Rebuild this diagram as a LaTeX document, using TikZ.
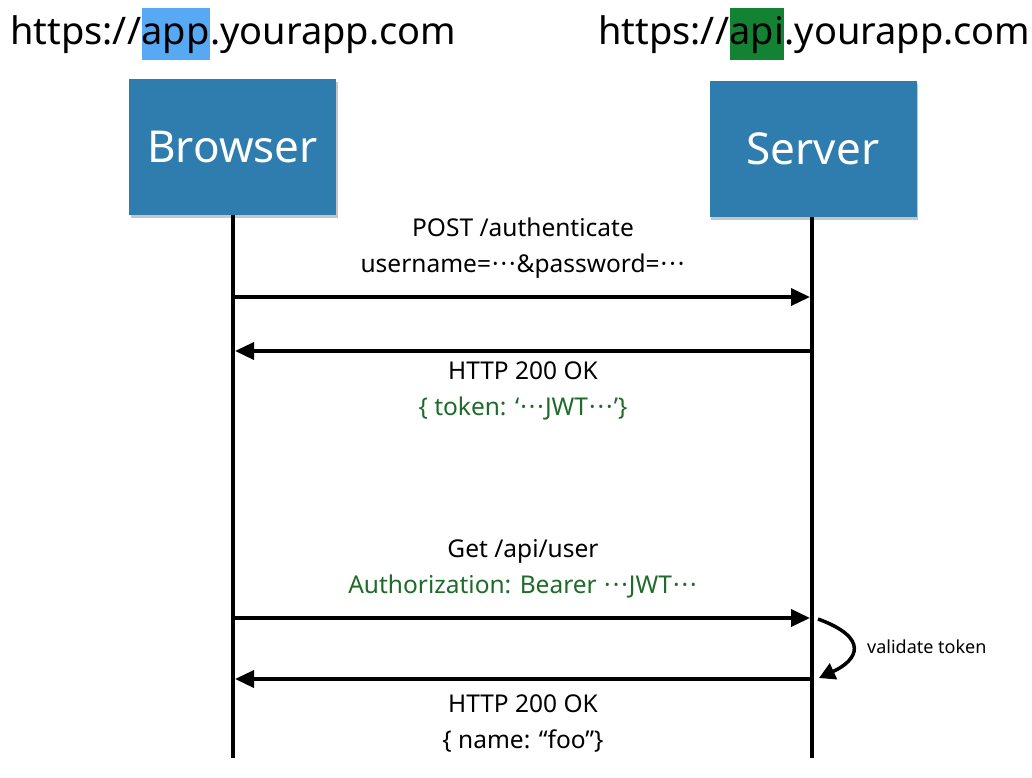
\documentclass[tikz,border=0pt]{standalone}
\usepackage{fontspec}
\setmainfont{Noto Sans}
\usetikzlibrary{arrows.meta,shadows,positioning}
\definecolor{boxblue}{HTML}{2F7DAE}
\definecolor{hlblue}{HTML}{57A9F4}
\definecolor{hlgreen}{HTML}{138232}
\definecolor{txtgreen}{HTML}{1E6B2A}
\newcommand{\dotsmid}{\kern1pt·\kern2pt·\kern2pt·\kern1pt}
\begin{document}
\begin{tikzpicture}[x=1pt,y=-1pt,
  title/.style={font=\fontsize{38}{40}\selectfont, inner xsep=0pt, inner ysep=0pt, text height=37pt, text depth=15pt, anchor=base west},
  actor/.style={fill=boxblue, text=white, minimum width=207pt, minimum height=136pt, inner sep=0pt,
    font=\fontsize{44}{46}\selectfont, drop shadow={opacity=0.45, shadow xshift=1.5pt, shadow yshift=-3pt}},
  life/.style={line width=3.5pt},
  msg/.style={line width=3.5pt, -{Triangle[length=19pt,width=17pt]}},
  lbl/.style={font=\fontsize{24.5}{36}\selectfont, align=center, inner sep=0pt},
  note/.style={font=\fontsize{18}{20}\selectfont, inner sep=0pt, anchor=west}]
\useasboundingbox (0,0) rectangle (1032,778);
% titles
\node[title] (t1a) at (10,45) {https://};
\node[title, fill=hlblue, right=0pt of t1a.base east, anchor=base west] (t1b) {app};
\node[title, right=0pt of t1b.base east, anchor=base west] (t1c) {.yourapp.com};
\node[title] (t2a) at (598,45) {https://};
\node[title, fill=hlgreen, right=0pt of t2a.base east, anchor=base west] (t2b) {api};
\node[title, right=0pt of t2b.base east, anchor=base west] (t2c) {.yourapp.com};
% actors
\node[actor] (browser) at (232.5,147) {Browser};
\node[actor] (server) at (813,149) {Server};
% lifeline ends
\coordinate (bend) at (233,758);
\coordinate (send) at (812,758);
\draw[life] (browser.south -| bend) -- (bend);
\draw[life] (server.south -| send) -- (send);
% message points
\coordinate (b1) at (233,297); \coordinate (s1) at (810,297);
\coordinate (s2) at (813.5,351); \coordinate (b2) at (235,351);
\coordinate (b3) at (233,618); \coordinate (s3) at (810,618);
\coordinate (s4) at (813.5,679); \coordinate (b4) at (235,679);
\draw[msg] (b1) -- (s1);
\draw[msg] (s2) -- (b2);
\draw[msg] (b3) -- (s3);
\draw[msg] (s4) -- (b4);
% labels
\node[lbl] (l1) at (523,248) {POST /authenticate\\username=\dotsmid\&password=\dotsmid};
\node[lbl] (l2) at (523,391) {HTTP 200 OK\\\textcolor{txtgreen}{\{ token: ‘\dotsmid JWT\dotsmid’\}}};
\node[lbl] (l3) at (523,569) {Get /api/user\\\textcolor{txtgreen}{Authorization: Bearer \dotsmid JWT\dotsmid}};
\node[lbl] (l4) at (523,724) {HTTP 200 OK\\\{ name: “foo”\}};
% self validation
\coordinate (v1) at (818,619);
\coordinate (v2) at (819,678);
\draw[line width=3.5pt, -{Triangle[length=16pt,width=17pt]}] (v1) .. controls (870,638) and (858,660) .. (v2);
\node[note] (vt) at (867,647) {validate token};
\end{tikzpicture}
\end{document}
